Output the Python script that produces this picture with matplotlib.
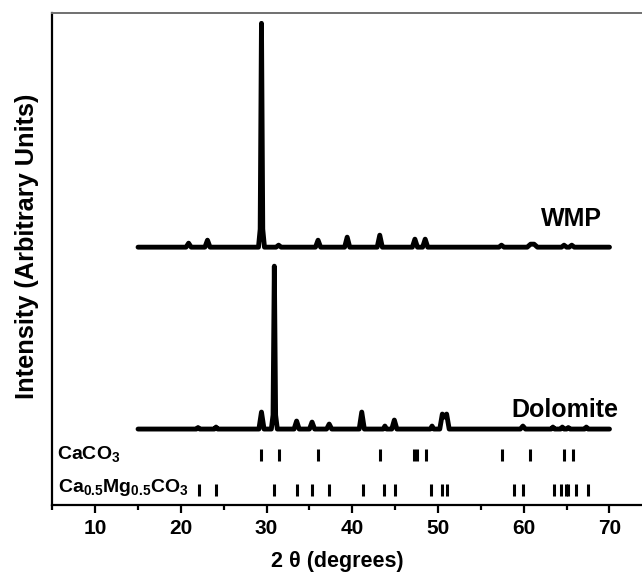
import matplotlib
matplotlib.use("Agg")
import matplotlib.pyplot as plt
from matplotlib.ticker import MultipleLocator

plt.rcParams["font.family"] = ["Liberation Sans", "DejaVu Sans"]
plt.rcParams["font.weight"] = "bold"
plt.rcParams["mathtext.fontset"] = "custom"
plt.rcParams["mathtext.rm"] = "Liberation Sans:bold"
plt.rcParams["mathtext.bf"] = "Liberation Sans:bold"
plt.rcParams["mathtext.default"] = "bf"

# WMP pattern: (2theta, intensity) vertices, baseline = 0
wmp_2theta = [15.0, 20.6, 20.9, 21.2, 22.8, 23.1, 23.4, 29.05, 29.25, 29.4, 29.55, 29.75,
              31.1, 31.4, 31.7, 35.7, 36.0, 36.3, 39.1, 39.4, 39.7, 42.9, 43.2, 43.5,
              47.0, 47.3, 47.6, 48.2, 48.5, 48.8, 57.1, 57.4, 57.7, 60.4, 60.8, 61.2, 61.6,
              64.4, 64.7, 65.0, 65.3, 65.6, 65.9, 70.0]
wmp_int = [0, 0, 4, 0, 0, 7, 0, 0, 18, 224, 18, 0,
           0, 2, 0, 0, 7, 0, 0, 10, 0, 0, 12, 0,
           0, 8, 0, 0, 8, 0, 0, 2, 0, 0, 3, 3, 0,
           0, 2, 0, 0, 2, 0, 0]

# Dolomite pattern
dol_2theta = [15.0, 21.8, 22.0, 22.2, 23.9, 24.1, 24.3, 29.1, 29.4, 29.7, 30.55, 30.75, 30.9,
              31.05, 31.25, 33.2, 33.5, 33.8, 35.0, 35.3, 35.6, 37.0, 37.3, 37.6,
              40.8, 41.1, 41.4, 43.6, 43.8, 44.0, 44.6, 44.9, 45.2, 49.1, 49.3, 49.5,
              50.2, 50.5, 50.75, 51.0, 51.3, 59.6, 59.9, 60.2, 63.2, 63.4, 63.6,
              64.3, 64.5, 64.7, 65.0, 65.2, 65.4, 67.1, 67.3, 67.5, 70.0]
dol_int = [0, 0, 1.5, 0, 0, 2, 0, 0, 17, 0, 0, 14, 163,
           14, 0, 0, 8, 0, 0, 7, 0, 0, 5, 0,
           0, 17, 0, 0, 3, 0, 0, 9, 0, 0, 3, 0,
           0, 15, 12, 15, 0, 0, 3, 0, 0, 2, 0,
           0, 2, 0, 0, 1.5, 0, 0, 2, 0, 0]

# reference reflections
calcite_ref = [29.4, 31.5, 36.0, 43.2, 47.2, 47.6, 48.6, 57.5, 60.7, 64.7, 65.7]
dolomite_ref = [22.1, 24.1, 30.9, 33.5, 35.3, 37.3, 41.2, 43.7, 45.0, 49.2, 50.5,
                51.0, 58.9, 59.9, 63.5, 64.4, 64.9, 65.2, 66.1, 67.5]

wmp_offset = 258
dol_offset = 76
calcite_row = 50
dolomite_row = 15

fig = plt.figure(figsize=(6.42, 5.74), dpi=100)
ax = fig.add_axes([0.0815, 0.1202, 0.9346, 0.8566])

ax.plot(wmp_2theta, [v + wmp_offset for v in wmp_int], color="black", lw=3.5,
        solid_joinstyle="round", solid_capstyle="round")
ax.plot(dol_2theta, [v + dol_offset for v in dol_int], color="black", lw=3.5,
        solid_joinstyle="round", solid_capstyle="round")

ax.vlines(calcite_ref, calcite_row - 6, calcite_row + 6, color="black", lw=2.2)
ax.vlines(dolomite_ref, dolomite_row - 6, dolomite_row + 6, color="black", lw=2.2)

ax.text(65.6, wmp_offset + 28, "WMP", fontsize=18, ha="center", va="center")
ax.text(64.8, dol_offset + 19, "Dolomite", fontsize=18, ha="center", va="center")
ax.text(5.6, calcite_row + 1, "CaCO$_3$", fontsize=14, ha="left", va="center")
ax.text(5.7, dolomite_row + 3, "Ca$_{0.5}$Mg$_{0.5}$CO$_3$", fontsize=14,
        ha="left", va="center")

ax.set_xlim(5, 75)
ax.set_ylim(0, 492)
ax.xaxis.set_major_locator(MultipleLocator(10))
ax.xaxis.set_minor_locator(MultipleLocator(5))
ax.tick_params(axis="x", which="major", direction="out", length=6, width=1.6,
               labelsize=15, pad=4)
ax.tick_params(axis="x", which="minor", direction="out", length=3.5, width=1.6)
ax.set_yticks([])

for side in ["left", "bottom"]:
    ax.spines[side].set_linewidth(1.6)
ax.spines["top"].set_linewidth(1.4)
ax.spines["top"].set_color("#707070")
ax.spines["right"].set_visible(False)

fig.text(337 / 642, 1 - 562 / 574, "2 \u03b8 (degrees)", fontsize=15.5,
         ha="center", va="center")
fig.text(27 / 642, 1 - 246 / 574, "Intensity (Arbitrary Units)", fontsize=18.3,
         ha="center", va="center", rotation=90)

fig.savefig("out.png", dpi=100)
